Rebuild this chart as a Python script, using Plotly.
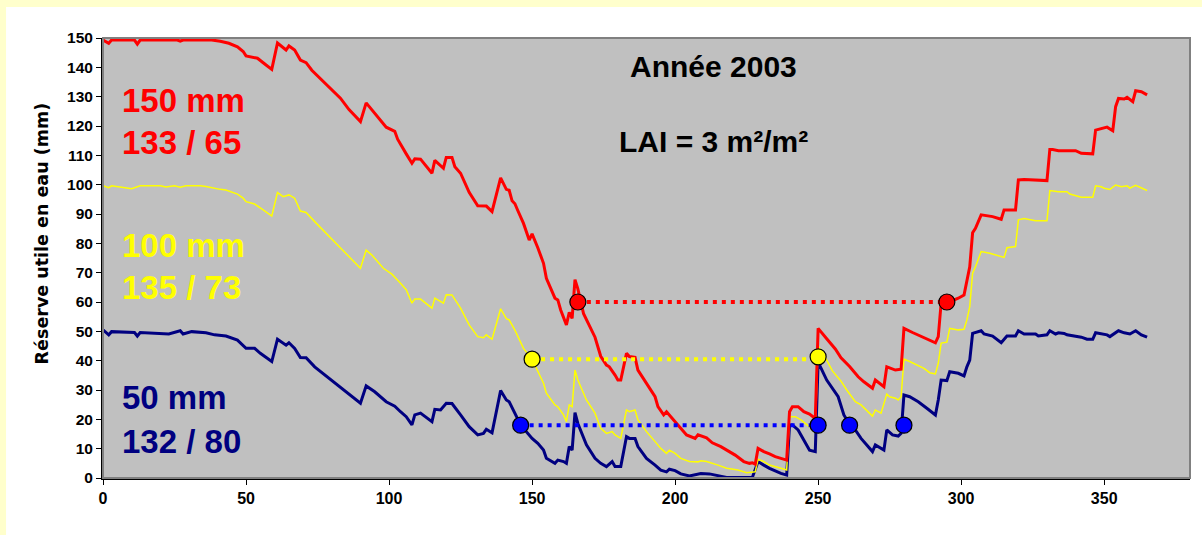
import plotly.graph_objects as go

# ---------------- data ----------------
red_days = [0, 2, 3, 11, 12, 13, 26, 27, 28, 38, 41, 44, 47, 49, 50, 54, 57, 59, 61, 64, 65, 67, 69, 71, 73,
            83, 86, 90, 92, 96, 99, 102, 103, 106, 108, 109, 111, 115, 116, 119, 120, 122, 123, 125, 128, 131,
            134, 136, 139, 141, 142, 143, 144, 145, 147, 149, 150, 152, 154, 155, 158, 159, 160, 162, 163, 164,
            165, 166, 168, 172, 174, 176, 177, 179, 180, 181, 183, 184, 186, 187, 190, 193, 194, 196, 197, 199,
            202, 204, 207, 208, 211, 213, 216, 221, 224, 226, 227, 228, 229, 231, 233, 235, 237, 239, 240, 241,
            243, 245, 247, 249, 250, 251, 253, 256, 258, 261, 264, 266, 269, 270, 273, 274, 277, 279, 280, 283,
            288, 291, 292, 293, 296, 299, 301, 302, 303, 304, 305, 307, 311, 314, 315, 319, 320, 322, 330, 331,
            332, 334, 340, 342, 346, 347, 349, 351, 353, 354, 355, 357, 358, 360, 361, 363, 365]
red_values = [149.3, 148.2, 149.3, 149.3, 147.9, 149.3, 149.3, 148.9, 149.3, 149.3, 148.9, 148.2, 147, 145.4,
              143.9, 143.1, 140.8, 139.3, 148.3, 145.9, 147.3, 145.9, 142.5, 141.6, 139, 129.5, 125.6, 121.5,
              127.9, 123.2, 119.6, 118.2, 115.5, 110.5, 107.3, 108.8, 108.7, 103.9, 108.3, 105.6, 109.3, 109.3,
              106.1, 103.9, 97.4, 92.8, 92.7, 90.8, 102.3, 98.4, 98.1, 94.5, 93.5, 91.2, 86.8, 81.1, 83.2, 78.5,
              73.2, 68.1, 61.3, 60.7, 57.3, 52.2, 56.5, 54.4, 67.6, 64.5, 56, 48, 41.5, 38.5, 37.9, 35.1, 33.4,
              33.4, 42.5, 41.4, 41.1, 36.8, 32.3, 27.7, 24.3, 21.5, 22.6, 20.3, 16.9, 14.7, 13.5, 14.7, 13.7, 12,
              10.7, 7.8, 5.6, 5, 5.2, 4.7, 10.1, 9, 8.2, 7.3, 6.7, 6.1, 22.6, 24.3, 24.3, 22.6, 21.8, 20.3, 51,
              49.9, 47.5, 44, 41, 38, 34.5, 32.8, 30.6, 33.4, 31.1, 37.9, 36.8, 37.1, 51, 49.6, 47.5, 46.1, 48.2,
              59.6, 60.1, 61.3, 62.4, 67.5, 72, 83.6, 85.1, 89.7, 89.1, 88.2, 91.4, 91.4, 101.6, 101.8, 101.4,
              112, 112, 111.6, 111.6, 110.7, 110.5, 118.6, 119, 119.6, 118.4, 126.6, 129.4, 129.2, 129.8, 128.3,
              132, 131.7, 130.6]

yellow_days = [0, 2, 3, 10, 13, 20, 22, 25, 27, 29, 34, 36, 41, 43, 47, 49, 50, 53, 56, 59, 61, 63, 65, 67, 69,
               71, 74, 78, 85, 90, 92, 94, 98, 101, 104, 106, 108, 109, 111, 115, 116, 119, 120, 122, 125, 128,
               131, 133, 134, 136, 139, 141, 142, 144, 147, 150, 154, 155, 158, 159, 161, 162, 163, 164, 165, 166,
               169, 172, 174, 176, 178, 179, 181, 183, 184, 186, 187, 190, 193, 195, 197, 198, 200, 202, 205, 208,
               209, 211, 215, 218, 222, 225, 228, 229, 231, 233, 237, 239, 240, 242, 244, 246, 249, 250, 252, 255,
               258, 260, 263, 265, 269, 270, 272, 274, 275, 277, 278, 279, 280, 282, 287, 289, 291, 292, 293, 295,
               296, 299, 301, 302, 303, 304, 305, 307, 310, 315, 316, 319, 320, 322, 326, 330, 331, 334, 337, 338,
               342, 346, 347, 349, 350, 352, 354, 356, 358, 359, 361, 365]
yellow_values = [99.6, 99, 99.6, 98.6, 99.6, 99.6, 99.2, 99.6, 99.1, 99.6, 99.6, 99.4, 98.4, 98.2, 96.8, 95.4,
                 94.2, 93.4, 91.4, 89.3, 97.3, 95.9, 96.5, 95.4, 91, 90.5, 87.4, 83.4, 76.6, 71.5, 77.7, 76, 71.5,
                 69.5, 66.4, 64.2, 59.6, 61, 61, 57.9, 61.3, 59.6, 62.5, 62.4, 57.9, 52.2, 48.2, 47.8, 48.8, 47.3,
                 57.7, 54.3, 53.9, 50.4, 44.2, 40.5, 32.3, 28.9, 24.9, 24.3, 21.5, 19.2, 24.9, 24.3, 36.8, 33.4,
                 26.6, 22.1, 16.9, 15.2, 15.8, 14.7, 13.5, 23.2, 22.6, 23.2, 19.8, 15.8, 12.4, 10.1, 8.4, 9.5, 8.4,
                 6.7, 5.6, 5.5, 5.9, 5.6, 4.4, 3.3, 2.7, 1.8, 2.1, 6.4, 5.6, 4.4, 3.3, 2.7, 20.9, 20.9, 19.8, 18.1,
                 15.8, 45, 42, 36.5, 33, 30, 26, 24.9, 21.1, 23.2, 22.1, 28.6, 27.7, 27.2, 26.6, 27.7, 40.5, 39.7,
                 37.4, 35.9, 35.5, 39.1, 46, 46.3, 51, 50.5, 50.7, 53.9, 58.4, 69.8, 72, 77.2, 76.6, 75.2, 78.5,
                 78.9, 88, 88.5, 87.7, 87.7, 98, 97.6, 97.6, 96.8, 95.7, 95.7, 99.6, 99.3, 98.8, 98.4, 99.9, 99.3,
                 99.6, 98.8, 99.8, 98]

blue_days = [0, 2, 3, 11, 12, 13, 23, 27, 28, 31, 36, 39, 43, 47, 50, 53, 55, 59, 61, 64, 65, 67, 69, 71, 74, 79,
             85, 88, 90, 92, 95, 99, 102, 104, 106, 108, 109, 111, 115, 116, 118, 120, 122, 125, 128, 131, 133,
             134, 136, 139, 141, 142, 144, 146, 150, 152, 154, 155, 158, 159, 161, 162, 163, 164, 165, 166, 169,
             172, 174, 176, 178, 179, 181, 183, 184, 186, 187, 190, 193, 195, 197, 198, 200, 202, 205, 208, 209,
             212, 215, 218, 227, 229, 231, 233, 237, 239, 240, 241, 243, 245, 247, 249, 250, 253, 257, 259, 261,
             263, 265, 269, 270, 273, 274, 276, 278, 279, 280, 282, 285, 288, 291, 292, 293, 295, 296, 299, 301,
             302, 303, 304, 306, 307, 308, 311, 314, 316, 319, 320, 322, 326, 327, 330, 331, 333, 334, 336, 337,
             342, 344, 346, 347, 351, 352, 355, 357, 359, 361, 363, 365]
blue_values = [50.5, 48.8, 49.9, 49.6, 48.4, 49.6, 49.1, 50.2, 49.1, 49.9, 49.5, 48.8, 48.4, 47, 44.2, 44.2, 42.5,
               39.7, 47.3, 45.3, 46.1, 44.2, 41.1, 41, 37.9, 34, 29.4, 27.2, 25.5, 31.4, 29.4, 26, 24.5, 22.6,
               20.9, 18.1, 21.5, 22.1, 19.2, 23.4, 23.2, 25.5, 25.4, 21.5, 17.5, 14.7, 15.2, 16.6, 15.4, 29.8,
               26.6, 26, 22.1, 18.1, 13.5, 11.8, 9.5, 6.7, 5, 6.1, 5.6, 5, 10.7, 9.5, 22.3, 18.6, 11.3, 6.7, 5,
               3.9, 5.6, 3.9, 3.9, 14.1, 13.5, 13.5, 10.7, 6.7, 4.4, 2.7, 2.1, 3, 2.5, 1.4, 0.7, 1.4, 1.5, 1.4, 0.7,
               0.2, 0.2, 5.6, 4.4, 3.3, 1.6, 1, 18.1, 18.1, 16.4, 13, 9.5, 9, 39.5, 33.4, 27.7, 21.5, 18.3, 16.4,
               13.5, 9, 11.3, 9.5, 16.4, 14.7, 14.3, 15.2, 28.3, 27.7, 26, 23.8, 21.5, 26.6, 33.4, 33.2, 36.2,
               35.7, 34.8, 37.9, 40.2, 49.3, 49.9, 50.2, 49.1, 48.4, 46.1, 48.4, 48.4, 50.2, 49.1, 49.1, 48.4,
               48.8, 50.2, 49.1, 49.5, 49.3, 48.8, 48, 47.3, 47.3, 49.5, 48.8, 48.2, 50.2, 49.5, 49.1, 50.2, 48.8,
               48]

# threshold lines and their markers
red_thr_days = [166, 295]
red_thr_value = 60
yellow_thr_days = [150, 250]
yellow_thr_value = 40.5
yellow_marker_values = [40.5, 41.3]
blue_thr_days = [146, 250]
blue_thr_value = 18
blue_marker_days = [146, 250, 261, 280]

x_ticks = [0, 50, 100, 150, 200, 250, 300, 350]
y_ticks = list(range(0, 151, 10))

RED = "#FF0000"
YELLOW = "#FFFF00"
NAVY = "#000080"
BLUE = "#0000FF"
FONT = "Liberation Sans, Arial, sans-serif"

fig = go.Figure()

fig.add_trace(go.Scatter(x=blue_days, y=blue_values, mode="lines",
                         line=dict(color=NAVY, width=3), hoverinfo="skip"))
fig.add_trace(go.Scatter(x=yellow_days, y=yellow_values, mode="lines",
                         line=dict(color=YELLOW, width=1.5), hoverinfo="skip"))
fig.add_trace(go.Scatter(x=red_days, y=red_values, mode="lines",
                         line=dict(color=RED, width=3), hoverinfo="skip"))

dash = "4px,5px"
fig.add_trace(go.Scatter(x=red_thr_days, y=[red_thr_value] * 2, mode="lines",
                         line=dict(color=RED, width=4, dash=dash)))
fig.add_trace(go.Scatter(x=yellow_thr_days, y=[yellow_thr_value] * 2, mode="lines",
                         line=dict(color=YELLOW, width=4, dash=dash)))
fig.add_trace(go.Scatter(x=blue_thr_days, y=[blue_thr_value] * 2, mode="lines",
                         line=dict(color=BLUE, width=4, dash=dash)))

mk = dict(size=16, line=dict(color="black", width=1.2))
fig.add_trace(go.Scatter(x=red_thr_days, y=[red_thr_value] * 2, mode="markers",
                         marker=dict(color=RED, **mk)))
fig.add_trace(go.Scatter(x=yellow_thr_days, y=yellow_marker_values, mode="markers",
                         marker=dict(color=YELLOW, **mk)))
fig.add_trace(go.Scatter(x=blue_marker_days, y=[blue_thr_value] * 4, mode="markers",
                         marker=dict(color=BLUE, **mk)))

# text annotations
labels = [
    ("150 mm", RED, 128.8), ("133 / 65", RED, 114.5),
    ("100 mm", YELLOW, 79.4), ("135 / 73", YELLOW, 64.8),
    ("50 mm", NAVY, 27.3), ("132 / 80", NAVY, 12.6),
]
for txt, col, yv in labels:
    fig.add_annotation(x=5.8, y=yv, xref="x", yref="y", text="<b>" + txt + "</b>", showarrow=False,
                       xanchor="left", yanchor="middle", font=dict(family=FONT, size=33, color=col))

fig.add_annotation(x=213.5, y=140.2, xref="x", yref="y", text="<b>Année 2003</b>", showarrow=False,
                   font=dict(family=FONT, size=30, color="black"))
fig.add_annotation(x=213.5, y=114.6, xref="x", yref="y", text="<b>LAI = 3 m²/m²</b>", showarrow=False,
                   font=dict(family=FONT, size=30, color="black"))

fig.add_annotation(x=-0.0561, y=0.556, xref="paper", yref="paper", text="<b>Réserve utile en eau (mm)</b>",
                   showarrow=False, textangle=-90, xanchor="center", yanchor="middle",
                   font=dict(family="DejaVu Sans, sans-serif", size=17.5, color="black"))

# background strips and plot border
fig.add_shape(type="rect", xref="paper", yref="paper", x0=-0.0948, x1=-0.0892, y0=-0.13, y1=1.0864,
              fillcolor="#FFFFCC", line=dict(width=0), layer="below")
fig.add_shape(type="rect", xref="paper", yref="paper", x0=-0.0948, x1=1.011, y0=1.0705, y1=1.0864,
              fillcolor="#FFFFCC", line=dict(width=0), layer="below")
fig.add_shape(type="rect", xref="paper", yref="paper", x0=0, x1=1, y0=0, y1=1,
              fillcolor="rgba(0,0,0,0)", line=dict(color="#808080", width=2), layer="above")

fig.update_layout(
    width=1202, height=535,
    margin=dict(l=103, r=12, t=38, b=57),
    paper_bgcolor="white", plot_bgcolor="#C0C0C0",
    showlegend=False,
    font=dict(family=FONT, color="black"),
)
fig.update_xaxes(range=[0, 380], tickvals=x_ticks, ticks="outside", ticklen=5, tickcolor="black",
                 showgrid=False, zeroline=False, showline=True, linecolor="black", linewidth=2,
                 tickfont=dict(family=FONT, size=16, color="black", weight="bold"))
fig.update_yaxes(range=[0, 150], tickvals=y_ticks, ticks="outside", ticklen=5, tickcolor="black",
                 showgrid=False, zeroline=False, showline=True, linecolor="black", linewidth=2,
                 tickfont=dict(family=FONT, size=15.5, color="black", weight="bold"))

fig.write_html("out.html")
